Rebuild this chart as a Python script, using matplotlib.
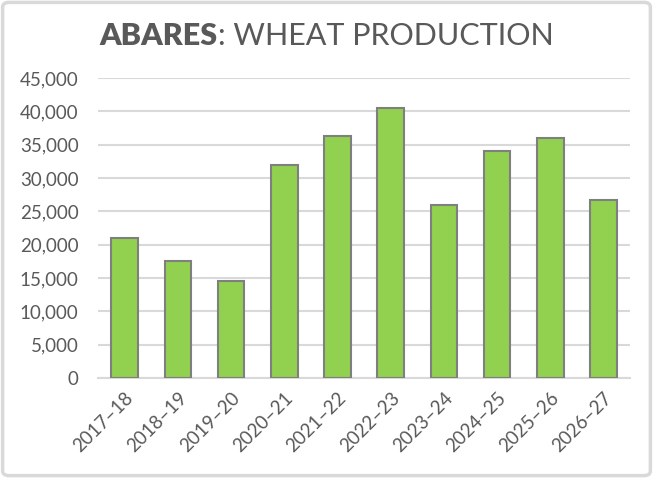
import numpy as np
import matplotlib
matplotlib.use("Agg")
import matplotlib.pyplot as plt
from matplotlib.patches import FancyBboxPatch

seasons = ["2017\u201318", "2018\u201319", "2019\u201320", "2020\u201321", "2021\u201322",
           "2022\u201323", "2023\u201324", "2024\u201325", "2025\u201326", "2026\u201327"]
production = [21000, 17600, 14500, 32000, 36300, 40500, 26000, 34100, 36000, 26700]
yticks = list(range(0, 45001, 5000))

TXT = "#595959"
plt.rcParams["font.family"] = ["Lato", "DejaVu Sans"]

fig = plt.figure(figsize=(6.53, 4.78), dpi=100)
ax = fig.add_axes([98 / 653, 1 - 378 / 478, 532 / 653, 300 / 478])

x = np.arange(len(seasons))
ax.bar(x, production, width=0.5, color="#92D050", edgecolor="#7F7F7F", linewidth=1.5, zorder=3)
ax.set_xlim(-0.5, len(seasons) - 0.5)
ax.set_ylim(0, 45000)
ax.set_yticks(yticks)
ax.set_yticklabels([f"{v:,}" for v in yticks], fontsize=13.5, color=TXT)
ax.set_xticks(x)
ax.set_xticklabels(seasons, rotation=45, ha="right", rotation_mode="anchor", fontsize=13.5, color=TXT)
ax.tick_params(axis="y", length=0, pad=14)
ax.tick_params(axis="x", length=0, pad=8)
ax.grid(axis="y", color="#D9D9D9", lw=1.5, zorder=0)
for s in ["top", "right", "left"]:
    ax.spines[s].set_visible(False)
ax.spines["bottom"].set_color("#D9D9D9")
ax.spines["bottom"].set_linewidth(1.5)

# title: bold part + regular part, centred together
fig.canvas.draw()
r = fig.canvas.get_renderer()
t1 = fig.text(0, 0, "ABARES", fontsize=22, fontweight="heavy", color=TXT)
t2 = fig.text(0, 0, ": WHEAT PRODUCTION", fontsize=22, color=TXT)
w1 = t1.get_window_extent(r).width
w2 = t2.get_window_extent(r).width
x0 = (653 - w1 - w2) / 2 / 653
yt = 1 - 45 / 478
t1.set_position((x0, yt))
t2.set_position((x0 + w1 / 653, yt))

# rounded border
fig.patches.append(FancyBboxPatch((0.004, 0.005), 0.992, 0.99, boxstyle="round,pad=0,rounding_size=0.01",
                                  transform=fig.transFigure, fc="none", ec="#D9D9D9", lw=2.5))

fig.savefig("out.png", dpi=100)
